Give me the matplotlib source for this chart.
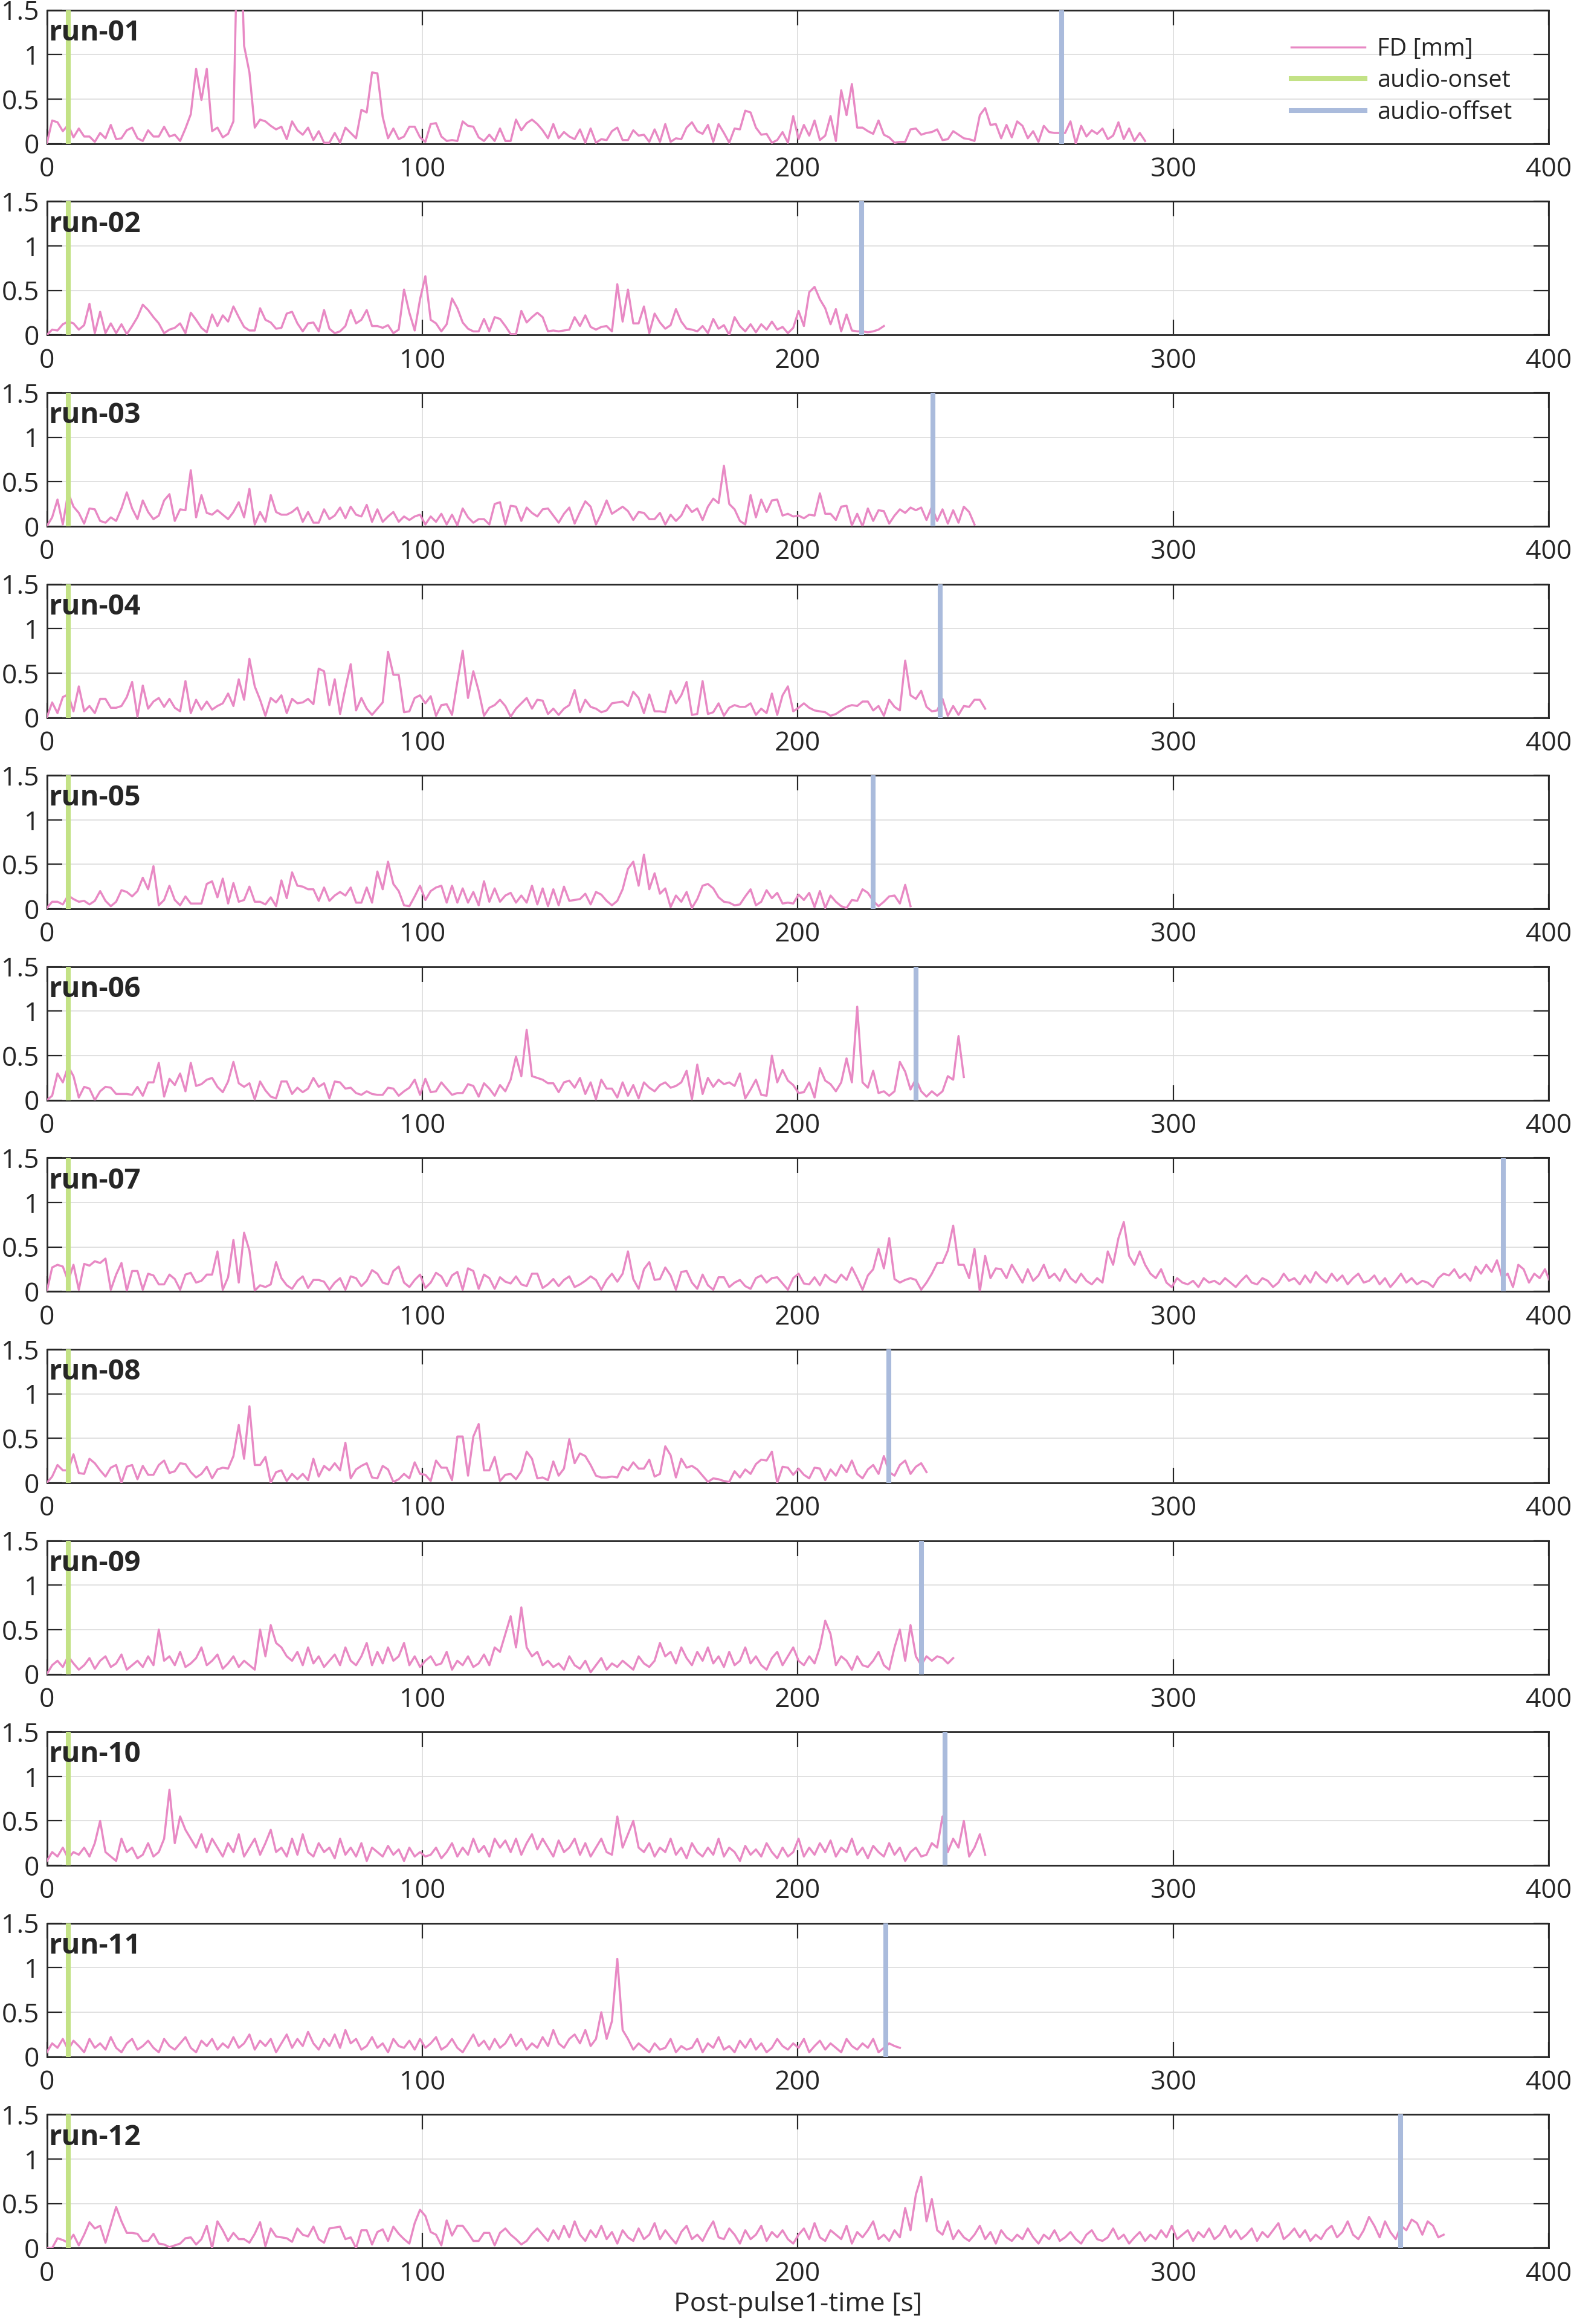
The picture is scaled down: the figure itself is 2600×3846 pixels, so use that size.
import numpy as np
import matplotlib
matplotlib.use("Agg")
import matplotlib.pyplot as plt

plt.rcParams['font.family'] = ['Open Sans', 'DejaVu Sans']

# framewise displacement per run [mm], sampled every DT seconds
DT = 1.42

fd_run01 = [0, .26, .24, .14, .21, .07, .17, .08, .08, .02, .12, .06, .21, .05, .06, .15, .18, .06, .03, .15,
            .08, .08, .19, .08, .10, .03, .17, .33, .84, .49, .84, .14, .18, .07, .11, .25, 3.0, 1.1, .80, .18,
            .27, .25, .20, .16, .19, .05, .25, .15, .10, .18, .04, .14, .01, .01, .12, .01, .18, .12, .06, .38,
            .35, .80, .79, .30, .06, .17, .05, .08, .19, .19, .07, .02, .22, .23, .08, .03, .04, .03, .25, .20,
            .19, .07, .03, .10, .03, .17, .03, .03, .27, .15, .23, .27, .22,
            .15, .06, .22, .06, .13, .08, .05, .16, .01, .17, .01, .05, .04, .14, .18, .04, .04, .15, .09, .10,
            .02, .16, .02, .22, .02, .06, .05, .18, .24, .14, .11, .21, .02, .22, .12, .01, .17, .16, .37, .35,
            .18, .10, .11, .01, .04, .13, .01, .31, .05, .21, .09, .26, .04, .09, .31, .03, .60, .32, .67, .18,
            .18, .14, .11, .26, .10, .07, .01, .02, .02, .16, .17, .10, .12, .13, .16, .04, .05, .14, .10, .06,
            .05, .03, .32, .40, .21, .22, .06, .21, .07, .25, .20, .06, .14, .02, .20,
            .13, .12, .12, .12, .25, .0, .20, .08, .15, .11, .17, .05, .09, .24, .05, .17, .03, .12, .03]

fd_run02 = [0, .06, .05, .12, .15, .13, .06, .11, .35, .02, .26, .02, .13, .02, .12, .01, .10, .20, .34, .28,
            .20, .13, .02, .06, .08, .13, .02, .25, .17, .08, .03, .23, .10, .22, .15, .32, .20, .09, .05, .05,
            .30, .17, .14, .07, .08, .24, .26, .13, .04, .13, .14, .04, .28, .07, .02, .04, .10, .28, .13, .17,
            .28, .10, .10, .08, .11, .02, .06, .51, .25, .05, .40, .66, .17, .13, .04, .12, .41, .30, .14, .07,
            .04, .04, .18, .04, .20, .18, .10, .01, .01, .27, .14, .20, .25, .20, .04, .05, .04, .05, .06, .20,
            .10, .22, .09, .06, .09, .10, .04, .57, .15, .51, .13, .13, .32, .02, .24, .14, .07, .11, .29, .15,
            .07, .06, .04, .10, .02, .18, .07, .11, .0, .20, .10, .04, .12, .03, .12, .06, .15, .06, .09, .02,
            .08, .27, .10, .48, .54, .40, .30, .12, .29, .04, .23, .05, .04, .04, .03, .04, .06, .10]

fd_run03 = [0, .10, .30, .02, .38, .22, .15, .03, .20, .19, .06, .04, .10, .06, .20, .38, .20, .08, .29, .16,
            .08, .12, .29, .36, .06, .19, .18, .63, .10, .35, .15, .13, .18, .13, .08, .16, .27, .10, .42, .02,
            .16, .05, .35, .16, .13, .13, .16, .21, .05, .16, .04, .04, .19, .08, .12, .21, .09, .22, .13, .11,
            .24, .05, .19, .05, .11, .16, .05, .11, .07, .11, .13, .02, .11, .05, .14, .02, .13, .01, .20, .10,
            .04, .08, .08, .02, .25, .27, .02, .23, .22, .06, .21, .15, .11, .19, .20, .12, .04, .14, .21, .03,
            .16, .28, .22, .02, .14, .29, .14, .18, .22, .17, .07, .16, .15, .08, .08, .15, .02, .13, .06, .12,
            .24, .16, .20, .07, .22, .31, .26, .68, .25, .19, .06, .02, .35, .10, .30, .16, .29, .30, .12, .14,
            .11, .12, .09, .13, .12, .37, .14, .14, .07, .22, .23, .01, .14, .0, .20, .06, .18, .17, .03, .12,
            .19, .15, .21, .18, .21, .07, .22, .06, .19, .03, .18, .04, .22, .16, .02]

fd_run04 = [0, .17, .05, .23, .26, .07, .35, .07, .13, .05, .21, .21, .11, .11, .13, .23, .40, .01, .36, .10,
            .18, .22, .12, .21, .11, .07, .41, .05, .20, .09, .18, .09, .13, .16, .27, .13, .43, .20, .66, .35,
            .20, .02, .22, .17, .25, .05, .21, .16, .17, .21, .15, .55, .52, .14, .43, .04, .33, .60, .08, .22,
            .10, .03, .10, .17, .74, .48, .48, .06, .07, .22, .25, .16, .24, .02, .14, .15, .03, .40, .75, .22,
            .52, .30, .02, .11, .14, .20, .13, .01, .10, .16, .22, .10, .20, .19, .04, .10, .03, .10, .14, .31,
            .06, .20, .12, .10, .06, .08, .16, .17, .18, .13, .29, .22, .05, .26, .07, .07, .06, .30, .16, .25,
            .40, .03, .04, .41, .04, .06, .16, .02, .11, .14, .12, .12, .16, .03, .10, .05, .27, .03, .25, .35,
            .07, .11, .16, .11, .08, .07, .06, .02, .04, .08, .12, .14, .13, .18, .18, .08, .13, .02, .20, .12,
            .08, .64, .25, .21, .30, .12, .07, .08, .21, .02, .13, .03, .13, .12, .20, .20, .10]

fd_run05 = [.01, .08, .08, .05, .15, .11, .08, .09, .05, .09, .20, .09, .03, .08, .21, .19, .14, .20, .35, .22,
            .48, .04, .10, .26, .10, .04, .14, .06, .06, .06, .28, .31, .13, .34, .06, .29, .08, .10, .25, .08,
            .08, .05, .13, .03, .32, .12, .41, .26, .25, .22, .22, .09, .24, .09, .15, .19, .15, .24, .07, .07,
            .24, .07, .42, .22, .53, .28, .20, .04, .03, .14, .26, .10, .20, .24, .26, .07, .26, .07, .23, .07,
            .19, .04, .31, .08, .23, .08, .15, .18, .07, .15, .07, .26, .05, .23, .03, .22, .04, .25, .09, .10,
            .11, .17, .05, .19, .16, .09, .04, .09, .22, .45, .53, .26, .61, .22, .40, .17, .23, .02, .15, .08,
            .19, .01, .11, .26, .28, .23, .13, .08, .07, .04, .05, .14, .22, .04, .08, .21, .12, .18, .06, .07,
            .06, .16, .10, .18, .02, .20, .01, .15, .08, .03, .01, .10, .09, .22, .18, .09, .03, .08, .14, .15,
            .06, .27, .03]

fd_run06 = [0, .05, .30, .20, .38, .27, .03, .15, .13, .0, .10, .15, .14, .07, .07, .07, .06, .15, .05, .20,
            .20, .42, .04, .24, .17, .30, .10, .42, .16, .18, .23, .25, .15, .09, .21, .43, .19, .15, .19, .01,
            .21, .11, .04, .02, .21, .21, .07, .14, .09, .13, .25, .15, .19, .02, .21, .20, .13, .14, .08, .06,
            .10, .07, .06, .06, .14, .13, .05, .10, .14, .23, .06, .24, .09, .10, .20, .13, .06, .08, .08, .18,
            .16, .04, .19, .13, .05, .17, .10, .23, .49, .27, .79, .27, .25, .23, .19, .19, .09, .20, .22, .14,
            .25, .07, .20, .01, .23, .13, .13, .03, .20, .05, .17, .02, .20, .14, .10, .17, .20, .14, .16, .20,
            .33, .01, .40, .07, .25, .15, .23, .18, .20, .16, .30, .02, .12, .23, .06, .05, .50, .20, .34, .22,
            .17, .08, .09, .20, .03, .36, .22, .18, .10, .20, .47, .20, 1.05, .20, .14, .33, .08, .10, .05, .10,
            .43, .32, .12, .24, .10, .04, .10, .05, .10, .27, .23, .72, .26]

fd_run07 = [0, .27, .30, .28, .12, .30, .02, .31, .29, .34, .32, .37, .02, .19, .32, .01, .23, .23, .02, .20,
            .18, .08, .08, .19, .14, .02, .19, .21, .10, .12, .19, .19, .45, .02, .16, .58, .10, .66, .46, .01,
            .07, .05, .08, .33, .15, .07, .03, .12, .17, .04, .13, .13, .11, .02, .10, .15, .02, .17, .15, .06,
            .12, .24, .20, .10, .08, .23, .28, .10, .05, .13, .19, .04, .10, .21, .17, .06, .18, .22, .02, .26,
            .23, .03, .19, .15, .03, .16, .11, .09, .17, .08, .06, .20, .20, .04, .08, .14, .06, .13, .17, .05,
            .08, .12, .17, .13, .02, .13, .20, .11, .20, .45, .14, .03, .25, .33, .13, .14, .27, .18, .02, .22,
            .23, .10, .03, .19, .07, .02, .16, .16, .05, .10, .13, .06, .03, .15, .18, .10, .15, .16, .09, .02,
            .15, .20, .09, .08, .16, .07, .19, .13, .10, .19, .13, .27, .15, .02, .18, .25, .48, .26, .60, .14,
            .10, .13, .15, .13, .02, .10, .20, .32, .32, .46, .74, .30, .30, .15, .48, .0, .40, .15, .26,
            .25, .15, .30, .20, .10, .25, .12, .18, .30, .15, .20, .12, .25, .15, .10, .20, .12, .08, .15, .10,
            .45, .30, .60, .78, .40, .30, .45, .30, .20, .15, .25, .10, .05,
            .15, .10, .08, .12, .05, .15, .10, .12, .08, .15, .10, .05, .12, .18, .10, .08, .15, .12, .05, .10,
            .20, .12, .15, .08, .18, .10, .22, .15, .10, .20, .12, .18, .08, .15, .20, .10, .12, .18, .08, .15,
            .05, .12, .20, .10, .15, .08, .12, .10, .05, .15, .20, .18, .25, .15, .20, .12, .28, .20, .30, .22,
            .35, .15, .20, .05, .30, .25, .10, .20, .15, .25, .10, .20]

fd_run08 = [0, .07, .20, .14, .14, .32, .11, .10, .27, .22, .14, .07, .17, .20, .0, .18, .20, .04, .19, .09,
            .09, .20, .25, .11, .13, .22, .21, .12, .06, .10, .18, .05, .15, .17, .16, .30, .65, .27, .86, .20,
            .20, .29, .0, .12, .14, .02, .10, .04, .10, .03, .27, .07, .19, .14, .22, .14, .45, .05, .15, .19,
            .22, .06, .05, .19, .15, .01, .04, .10, .05, .23, .10, .09, .02, .25, .17, .17, .03, .52, .52, .08,
            .52, .66, .14, .14, .29, .02, .09, .10, .04, .13, .35, .27, .05, .06, .03, .24, .08, .16, .49, .22,
            .33, .30, .20, .08, .06, .06, .07, .06, .18, .14, .23, .16, .16, .26, .07, .10, .41, .31, .06, .27,
            .17, .19, .15, .08, .01, .05, .04, .02, .01, .13, .06, .15, .10, .21, .26, .25, .35, .0, .18, .17,
            .09, .16, .09, .05, .17, .16, .03,
            .15, .08, .20, .12, .25, .10, .05, .15, .20, .10, .30, .12, .08, .20, .25, .10, .18, .22, .12]

fd_run09 = [0, .10, .15, .08, .20, .12, .05,
            .10, .18, .06, .15, .20, .08, .12, .22, .05, .10, .15, .08, .20, .10,
            .50, .15, .20, .10, .25, .08, .12,
            .18, .30, .10, .15, .22, .06, .12, .20, .08, .15, .10, .05,
            .50, .20, .55, .35, .30, .20,
            .15, .25, .10, .30, .12, .20, .08, .15, .22, .10,
            .30, .15, .10, .20, .35, .10, .25, .12, .30, .15, .20, .35, .10, .20,
            .08, .15, .20, .10, .12, .25, .05, .15, .10, .20, .08, .12, .22, .10, .30, .25,
            .45, .65, .30, .75, .30, .20, .25, .10,
            .15, .08, .12, .05, .20, .10, .06, .15, .02, .10, .18, .05, .12, .08, .15, .10, .05, .20, .12, .08, .15,
            .35, .20, .25, .12, .30, .18, .10, .25, .15, .30, .12, .20, .08, .25, .10, .15, .30, .12, .20, .10,
            .05, .18, .25, .10, .20, .30, .15, .10, .20, .12,
            .30, .60, .45, .10, .20, .15, .05, .20, .10, .08, .15, .25, .10, .05, .30,
            .50, .15, .55, .20, .10, .20, .15, .20, .18, .12, .18]

fd_run10 = [.05, .15, .10, .20, .08, .15, .12, .20, .10, .25,
            .50, .15, .10, .05, .30, .15,
            .20, .08, .12, .25, .10, .15, .30,
            .85, .25, .55, .40, .30, .20, .35, .15, .30,
            .20, .10, .25, .15, .35, .10, .20, .30, .12, .25, .40, .15, .20, .10, .30, .12, .35, .15,
            .10, .25, .15, .20, .08, .30, .12, .20, .10, .25, .05, .20, .15, .10, .22, .12, .18, .05, .20, .10, .15,
            .10, .12, .20, .08, .15, .25, .10, .20, .12, .30, .15, .22, .10, .30, .20, .28, .15, .30, .12, .25,
            .35, .18, .30, .20, .10, .28, .15, .20,
            .30, .12, .25, .10, .20, .30, .15, .12, .55, .20, .35, .50, .20, .15,
            .25, .10, .20, .15, .30, .12, .20, .08, .25, .15, .10, .20, .12, .30, .10, .20, .15, .05, .22, .12,
            .18, .10, .25, .15, .08, .20, .10, .15,
            .30, .10, .20, .12, .25, .15, .28, .10, .20, .15, .30, .12, .20, .08, .22, .15, .10, .25, .12, .20,
            .05, .15, .20, .10, .12, .25,
            .20, .55, .15, .30, .20, .50, .10, .20, .35, .12]

fd_run11 = [.05, .15, .10, .20, .08, .18, .12, .05, .20, .10, .15, .08, .22, .10, .05, .15, .20, .08, .12, .18,
            .10, .05, .20, .12, .08, .15, .22, .10, .05, .18, .12, .20, .08, .15, .10,
            .22, .10, .15, .25, .08, .18, .12, .20, .05, .15, .25, .10, .20, .12, .28, .15, .08, .20, .12, .25,
            .10, .30, .15, .20, .08, .12, .22, .10, .15, .05, .20, .12, .10, .18, .08,
            .20, .10, .15, .22, .08, .12, .20, .10, .05, .15, .25, .12, .18, .08, .20, .10, .15, .25, .12, .20,
            .08, .15, .10, .22, .12, .30, .15, .10, .20, .25, .15, .30, .12, .20,
            .50, .20, .40, 1.10, .30, .20, .08, .15, .10, .05,
            .15, .08, .10, .20, .05, .12, .08, .10, .20, .05, .15, .10, .22, .08, .12, .05, .18, .10, .20, .08,
            .15, .05, .10, .20, .12, .08, .15, .10, .20, .05, .12, .18, .08, .15, .10, .05, .20, .12, .08, .15,
            .10, .20, .05, .10, .15, .12, .10]

fd_run12 = [0, 0, .11, .09, .06, .15, .03, .15, .29, .22, .25, .06, .26, .46, .30, .17, .17, .16, .08, .08,
            .16, .05, .04, .01, .03, .05, .11, .12, .04, .10, .25, .0, .30, .20, .08, .17, .10, .10, .06, .16,
            .29, .02, .22, .13, .12, .11, .07, .22, .15, .13, .24, .10, .06, .22, .23, .24, .10, .12, .0, .20,
            .20, .04, .18, .21, .08, .24, .16, .10, .05, .28, .43, .36, .18, .15, .03, .31, .14, .25, .25, .17,
            .08, .08, .17, .17, .03, .17, .22, .15, .10, .04, .08, .16, .22,
            .15, .08, .20, .10, .25, .12, .30, .15, .08, .20, .12, .25, .10, .18, .05, .20, .12, .08, .22, .10,
            .15, .28, .10, .20, .12, .05, .18, .25, .10, .15, .08, .20, .30, .12, .10, .22, .15, .05, .20, .10,
            .15, .25, .08, .18, .12, .20, .10, .05, .15, .22, .10, .28, .12, .08, .20, .15, .10, .25, .05, .18,
            .12, .20, .30, .10, .15, .08, .20, .12,
            .45, .20, .60, .80, .30, .55, .20, .15, .30, .10,
            .20, .12, .08, .15, .25, .10, .18, .05, .20, .12, .08, .15, .10, .22, .12, .05, .15, .10, .20, .08,
            .12, .18, .10, .05, .15, .20, .10, .08, .12, .22, .10, .15, .05, .12, .18, .08, .15, .10, .20, .12,
            .25, .10, .15, .20, .08, .18, .12, .22, .10, .15, .25, .12, .20, .10, .15, .22, .08, .18, .12, .20,
            .28, .10, .15, .22, .12, .20, .08, .15, .10, .20, .25, .12, .18, .30, .15, .10, .20, .35, .25, .12,
            .30, .18, .10, .25, .20, .32, .28, .15, .30, .25, .12, .15]

runs = ['run-01', 'run-02', 'run-03', 'run-04', 'run-05', 'run-06',
        'run-07', 'run-08', 'run-09', 'run-10', 'run-11', 'run-12']
fd_all = [fd_run01, fd_run02, fd_run03, fd_run04, fd_run05, fd_run06,
          fd_run07, fd_run08, fd_run09, fd_run10, fd_run11, fd_run12]
audio_onset = [5.7] * 12
audio_offset = [270.3, 217.0, 236.0, 238.0, 220.0, 231.5, 388.0, 224.3, 233.0, 239.3, 223.5, 360.5]

xticks = [0, 100, 200, 300, 400]
yticks = [0, 0.5, 1, 1.5]

fd_color = '#e889c4'
on_color = '#c3e286'
off_color = '#aabbdc'
ink = '#262626'

W, H = 2600, 3846
fig = plt.figure(figsize=(W / 100, H / 100), dpi=100)

ax_left = 77.5 / W
ax_width = (2563 - 77.5) / W
ax_h = 221 / H
step = 316.6

for i, (name, fd) in enumerate(zip(runs, fd_all)):
    top = 16.7 + i * step
    ax = fig.add_axes([ax_left, 1 - (top + 221) / H, ax_width, ax_h])
    t = np.arange(len(fd)) * DT
    ax.plot(t, fd, color=fd_color, lw=2.5, label='FD [mm]', zorder=3)
    ax.axvline(audio_onset[i], color=on_color, lw=5.8, label='audio-onset', zorder=4)
    ax.axvline(audio_offset[i], color=off_color, lw=5.8, label='audio-offset', zorder=4)

    ax.set_xlim(0, 400)
    ax.set_ylim(0, 1.5)
    ax.set_xticks(xticks)
    ax.set_yticks(yticks)
    ax.set_yticklabels(['0', '0.5', '1', '1.5'])
    ax.grid(True, color='#dcdcdc', lw=1.2, zorder=0)
    ax.set_axisbelow(True)
    ax.tick_params(direction='in', top=True, right=True, length=18, width=1.6,
                   labelsize=32, color=ink, labelcolor=ink)
    ax.tick_params(axis='x', pad=15)
    ax.tick_params(axis='y', pad=9)
    for sp in ax.spines.values():
        sp.set_linewidth(2.0)
        sp.set_color(ink)
    ax.text(0.001, 0.935, name, transform=ax.transAxes, ha='left', va='top',
            fontsize=34, fontweight='bold', color=ink, zorder=5)

    if i == 0:
        ax.legend(loc='upper right', bbox_to_anchor=(0.982, 0.87), frameon=False,
                  fontsize=28.5, handlelength=3.1, labelspacing=0.3, borderaxespad=0,
                  handletextpad=0.5, labelcolor=ink)
    if i == len(runs) - 1:
        ax.set_xlabel('Post-pulse1-time [s]', fontsize=32, color=ink, labelpad=4)

fig.savefig('out.png', dpi=100)
